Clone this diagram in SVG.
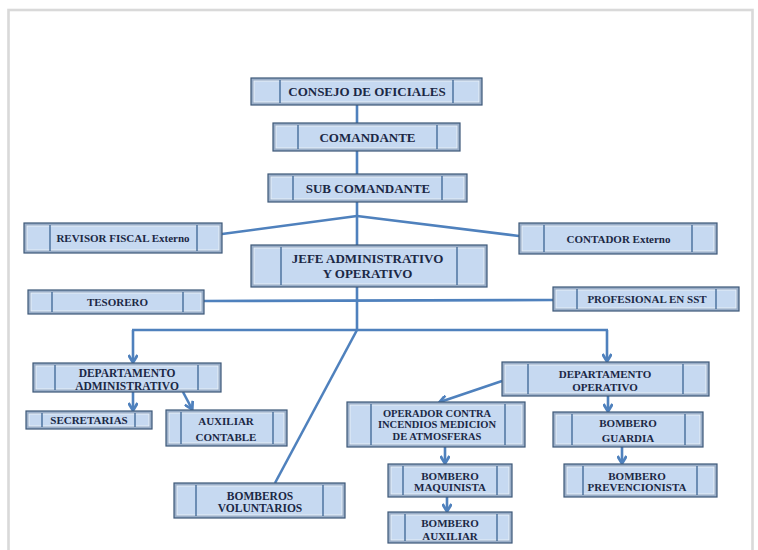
<svg xmlns="http://www.w3.org/2000/svg" width="758" height="550" viewBox="0 0 758 550">
<style>
.o{fill:#9aaec8;stroke:#3d5878;stroke-width:1.2}
.i{fill:#c6d9f1;stroke:#eef4fb;stroke-width:0.8}
.d{stroke:#2f5a8c;stroke-width:1.2}
.t{font-family:"Liberation Serif","Times New Roman",serif;font-weight:bold;fill:#1b2845;text-anchor:middle}
.l{font-size:13px}
.m{font-size:11px}
.s{font-size:10.5px}
.c{stroke:#4f81bd;stroke-width:2.6;fill:none}
.a{marker-end:url(#ar)}
</style>
<defs>
<marker id="ar" viewBox="0 0 10 10" refX="8" refY="5" markerWidth="10" markerHeight="10" markerUnits="userSpaceOnUse" orient="auto">
<path d="M1,0.5 L8.5,5 L1,9.5" fill="none" stroke="#4f81bd" stroke-width="2.8"/>
</marker>
</defs>
<rect x="0" y="0" width="758" height="550" fill="#ffffff"/>
<rect x="8.5" y="10" width="744" height="560" fill="none" stroke="#d9d9d9" stroke-width="2.6"/>
<g id="connectors">
<line class="c" x1="357" y1="104" x2="357" y2="123"/>
<line class="c" x1="357" y1="151" x2="357" y2="174"/>
<line class="c" x1="357" y1="202" x2="357" y2="245"/>
<line class="c" x1="357" y1="287" x2="357" y2="330"/>
<line class="c" x1="357" y1="216" x2="222" y2="234"/>
<line class="c" x1="357" y1="216" x2="519" y2="236"/>
<line class="c" x1="204" y1="301" x2="553" y2="300"/>
<line class="c" x1="132" y1="330" x2="608" y2="330"/>
<line class="c a" x1="133" y1="330" x2="133" y2="362"/>
<line class="c a" x1="607" y1="330" x2="607" y2="361"/>
<line class="c" x1="357" y1="330" x2="275" y2="483"/>
<line class="c a" x1="133" y1="392" x2="133" y2="410"/>
<line class="c a" x1="183" y1="392" x2="192" y2="409"/>
<line class="c a" x1="502" y1="381" x2="440" y2="402"/>
<line class="c a" x1="608" y1="396" x2="608" y2="411"/>
<line class="c a" x1="622" y1="447" x2="622" y2="463"/>
<line class="c a" x1="445" y1="447" x2="445" y2="463"/>
<line class="c a" x1="447" y1="497" x2="447" y2="511"/>
</g>
<g id="consejo">
<rect class="o" x="251" y="78" width="231" height="27"/><rect class="i" x="254" y="81" width="225" height="21"/>
<line class="d" x1="280" y1="80" x2="280" y2="103"/><line class="d" x1="453" y1="80" x2="453" y2="103"/>
<text class="t l" x="367" y="95.5">CONSEJO DE OFICIALES</text>
</g>
<g id="comandante">
<rect class="o" x="273" y="123" width="187" height="28"/><rect class="i" x="276" y="126" width="181" height="22"/>
<line class="d" x1="298" y1="125" x2="298" y2="149"/><line class="d" x1="437" y1="125" x2="437" y2="149"/>
<text class="t l" x="367.5" y="141.5">COMANDANTE</text>
</g>
<g id="subcomandante">
<rect class="o" x="268" y="174" width="199" height="28"/><rect class="i" x="271" y="177" width="193" height="22"/>
<line class="d" x1="293" y1="176" x2="293" y2="200"/><line class="d" x1="442" y1="176" x2="442" y2="200"/>
<text class="t l" x="368" y="192.5">SUB COMANDANTE</text>
</g>
<g id="revisor">
<rect class="o" x="24" y="223" width="198" height="30"/><rect class="i" x="27" y="226" width="192" height="24"/>
<line class="d" x1="50" y1="225" x2="50" y2="251"/><line class="d" x1="197" y1="225" x2="197" y2="251"/>
<text class="t m" x="123" y="242">REVISOR FISCAL Externo</text>
</g>
<g id="contador">
<rect class="o" x="519" y="223" width="198" height="31"/><rect class="i" x="522" y="226" width="192" height="25"/>
<line class="d" x1="544" y1="225" x2="544" y2="252"/><line class="d" x1="692" y1="225" x2="692" y2="252"/>
<text class="t m" x="618.5" y="242.5">CONTADOR Externo</text>
</g>
<g id="jefe">
<rect class="o" x="251" y="245" width="236" height="42"/><rect class="i" x="254" y="248" width="230" height="36"/>
<line class="d" x1="281" y1="247" x2="281" y2="285"/><line class="d" x1="457" y1="247" x2="457" y2="285"/>
<text class="t l" x="367.5" y="262.5">JEFE ADMINISTRATIVO</text>
<text class="t l" x="367.5" y="277.5">Y OPERATIVO</text>
</g>
<g id="tesorero">
<rect class="o" x="28" y="290" width="176" height="24"/><rect class="i" x="31" y="293" width="170" height="18"/>
<line class="d" x1="52" y1="292" x2="52" y2="312"/><line class="d" x1="183" y1="292" x2="183" y2="312"/>
<text class="t m" x="117.5" y="306">TESORERO</text>
</g>
<g id="profesional">
<rect class="o" x="553" y="287" width="186" height="24"/><rect class="i" x="556" y="290" width="180" height="18"/>
<line class="d" x1="577" y1="289" x2="577" y2="309"/><line class="d" x1="716" y1="289" x2="716" y2="309"/>
<text class="t m" x="647" y="303">PROFESIONAL EN SST</text>
</g>
<g id="depadmin">
<rect class="o" x="33" y="363" width="188" height="29"/><rect class="i" x="36" y="366" width="182" height="23"/>
<line class="d" x1="55" y1="365" x2="55" y2="390"/><line class="d" x1="198" y1="365" x2="198" y2="390"/>
<text class="t" style="font-size:11.5px" x="127" y="377">DEPARTAMENTO</text>
<text class="t" style="font-size:11.5px" x="127" y="390">ADMINISTRATIVO</text>
</g>
<g id="secretarias">
<rect class="o" x="26" y="411" width="126" height="18"/><rect class="i" x="29" y="414" width="120" height="12"/>
<line class="d" x1="42" y1="413" x2="42" y2="427"/><line class="d" x1="135" y1="413" x2="135" y2="427"/>
<text class="t m" x="89" y="424">SECRETARIAS</text>
</g>
<g id="auxiliarcontable">
<rect class="o" x="166" y="410" width="121" height="36"/><rect class="i" x="169" y="413" width="115" height="30"/>
<line class="d" x1="181" y1="412" x2="181" y2="444"/><line class="d" x1="273" y1="412" x2="273" y2="444"/>
<text class="t m" x="226" y="425">AUXILIAR</text>
<text class="t m" x="226" y="441">CONTABLE</text>
</g>
<g id="voluntarios">
<rect class="o" x="174" y="483" width="171" height="35"/><rect class="i" x="177" y="486" width="165" height="29"/>
<line class="d" x1="196" y1="485" x2="196" y2="516"/><line class="d" x1="323" y1="485" x2="323" y2="516"/>
<text class="t" style="font-size:11.5px" x="260" y="499.5">BOMBEROS</text>
<text class="t" style="font-size:11.5px" x="260" y="511.5">VOLUNTARIOS</text>
</g>
<g id="depoperativo">
<rect class="o" x="502" y="362" width="207" height="34"/><rect class="i" x="505" y="365" width="201" height="28"/>
<line class="d" x1="528" y1="364" x2="528" y2="394"/><line class="d" x1="683" y1="364" x2="683" y2="394"/>
<text class="t m" x="605" y="377.5">DEPARTAMENTO</text>
<text class="t m" x="605" y="390.5">OPERATIVO</text>
</g>
<g id="operador">
<rect class="o" x="347" y="402" width="178" height="45"/><rect class="i" x="350" y="405" width="172" height="39"/>
<line class="d" x1="371" y1="404" x2="371" y2="445"/><line class="d" x1="505" y1="404" x2="505" y2="445"/>
<text class="t s" x="437" y="417">OPERADOR CONTRA</text>
<text class="t s" x="437" y="428">INCENDIOS MEDICION</text>
<text class="t s" x="437" y="440">DE ATMOSFERAS</text>
</g>
<g id="guardia">
<rect class="o" x="553" y="412" width="150" height="35"/><rect class="i" x="556" y="415" width="144" height="29"/>
<line class="d" x1="572" y1="414" x2="572" y2="445"/><line class="d" x1="685" y1="414" x2="685" y2="445"/>
<text class="t m" x="628" y="426.5">BOMBERO</text>
<text class="t m" x="628" y="441.5">GUARDIA</text>
</g>
<g id="prevencionista">
<rect class="o" x="564" y="464" width="153" height="33"/><rect class="i" x="567" y="467" width="147" height="27"/>
<line class="d" x1="583" y1="466" x2="583" y2="495"/><line class="d" x1="697" y1="466" x2="697" y2="495"/>
<text class="t m" x="637" y="480">BOMBERO</text>
<text class="t m" x="637" y="491">PREVENCIONISTA</text>
</g>
<g id="maquinista">
<rect class="o" x="388" y="464" width="124" height="33"/><rect class="i" x="391" y="467" width="118" height="27"/>
<line class="d" x1="403" y1="466" x2="403" y2="495"/><line class="d" x1="497" y1="466" x2="497" y2="495"/>
<text class="t m" x="450" y="480">BOMBERO</text>
<text class="t m" x="450" y="491">MAQUINISTA</text>
</g>
<g id="auxiliar">
<rect class="o" x="388" y="512" width="124" height="31"/><rect class="i" x="391" y="515" width="118" height="25"/>
<line class="d" x1="405" y1="514" x2="405" y2="541"/><line class="d" x1="497" y1="514" x2="497" y2="541"/>
<text class="t m" x="450" y="527">BOMBERO</text>
<text class="t m" x="450" y="540">AUXILIAR</text>
</g>
</svg>
